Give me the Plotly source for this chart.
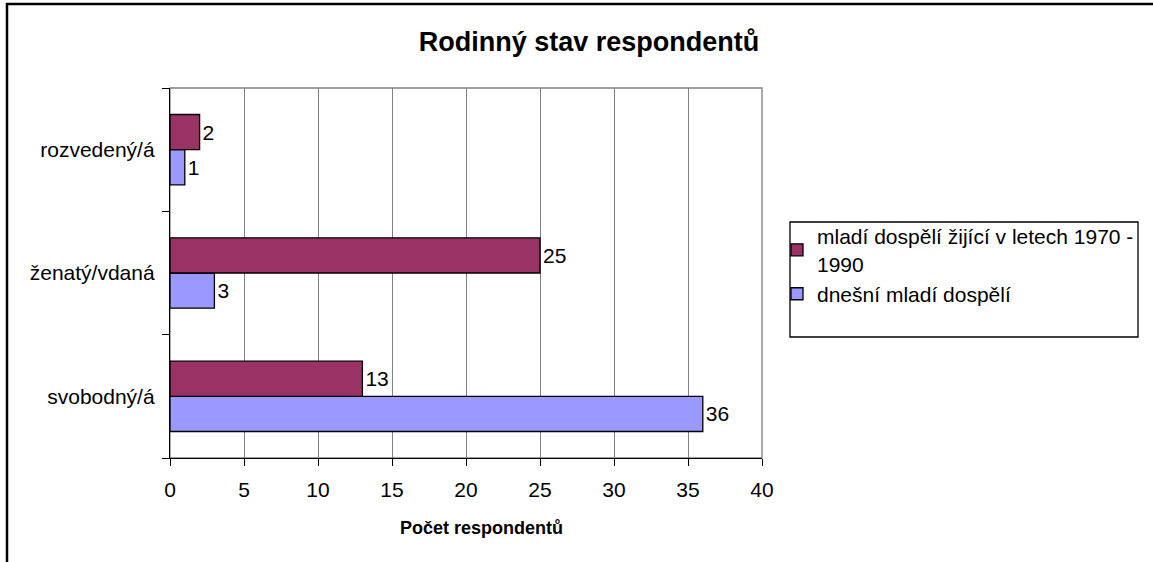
import plotly.graph_objects as go

categories = ['svobodný/á', 'ženatý/vdaná', 'rozvedený/á']
older = [13, 25, 2]
today = [36, 3, 1]
older_name = 'mladí dospělí žijící v letech 1970 -<br>1990'
today_name = 'dnešní mladí dospělí'

W, H = 1153, 562
L, R, T, B = 170, 762, 88, 458
pw, ph = R - L, B - T


def px(x):
    return (x - L) / pw


def py(y):
    return (B - y) / ph


font = dict(family='Liberation Sans, Arial, sans-serif', size=21, color='black')

fig = go.Figure()
fig.add_trace(go.Bar(y=categories, x=today, orientation='h', name=today_name,
                     marker=dict(color='#9999FF', line=dict(color='black', width=1.3)),
                     text=today, textposition='outside', textfont=font, cliponaxis=False))
fig.add_trace(go.Bar(y=categories, x=older, orientation='h', name=older_name,
                     marker=dict(color='#993366', line=dict(color='black', width=1.3)),
                     text=older, textposition='outside', textfont=font, cliponaxis=False))

# outer chart border
fig.add_shape(type='rect', xref='paper', yref='paper',
              x0=px(7), x1=px(1250), y0=py(650), y1=py(4),
              line=dict(color='black', width=2.5), layer='above')
# plot area frame (grey)
fig.add_shape(type='rect', xref='paper', yref='paper', x0=0, x1=1, y0=0, y1=1,
              line=dict(color='#808080', width=1.3), layer='below')
# legend box
fig.add_shape(type='rect', xref='paper', yref='paper',
              x0=px(790), x1=px(1138), y0=py(337), y1=py(222),
              line=dict(color='black', width=1.3))
# x axis title
fig.add_annotation(text='<b>Počet respondentů</b>', xref='paper', yref='paper',
                   x=px(481), y=py(528), xanchor='center', yanchor='middle',
                   showarrow=False, font=dict(size=18, color='black'))

fig.update_layout(
    width=W, height=H,
    margin=dict(l=L, r=W - R, t=T, b=H - B, pad=0),
    paper_bgcolor='white', plot_bgcolor='white',
    font=font,
    barmode='group', bargap=0.43, bargroupgap=0,
    title=dict(text='<b>Rodinný stav respondentů</b>', x=589 / W, xref='container',
               xanchor='center', y=1 - 42 / H, yanchor='middle',
               font=dict(size=27, color='black')),
    xaxis=dict(range=[0, 40], dtick=5, showgrid=True, gridcolor='#808080', gridwidth=1.3,
               showline=True, linecolor='black', linewidth=1.3, ticks='outside', ticklen=7,
               tickcolor='black', zeroline=False, ticklabelstandoff=6),
    yaxis=dict(categoryorder='array', categoryarray=categories, showgrid=False,
               showline=True, linecolor='black', linewidth=1.3, ticks='outside', ticklen=7,
               tickcolor='black', tickson='boundaries', ticklabelstandoff=10),
    legend=dict(x=px(777), y=py(216), xanchor='left', yanchor='top', traceorder='reversed',
                bgcolor='rgba(0,0,0,0)', borderwidth=0, font=font, itemwidth=30,
                tracegroupgap=6),
    showlegend=True,
)

# page body has a default 8px margin; drop it so pixel positions match
fig.write_html('out.html', config={'displayModeBar': False},
               post_script="document.body.style.margin='0px';")
